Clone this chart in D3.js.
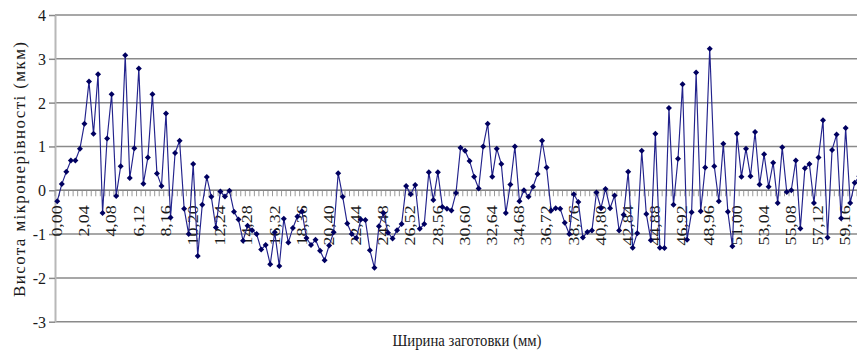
<!DOCTYPE html>
<html>
<head>
<meta charset="utf-8">
<script src="https://cdn.jsdelivr.net/npm/d3@7"></script>
<style>
  html, body { margin: 0; padding: 0; background: #fff; overflow: hidden; }
  svg { display: block; }
</style>
</head>
<body>
<svg id="chart" width="857" height="353"></svg>
<script>
// Profile heights (мкм) sampled every 0.34 mm across the blank width
const heights = [
  -0.25, 0.14, 0.42, 0.68, 0.68, 0.95, 1.52, 2.48, 1.29, 2.65,
  -0.52, 1.18, 2.19, -0.13, 0.55, 3.08, 0.28, 0.96, 2.78, 0.15,
  0.75, 2.19, 0.38, 0.10, 1.75, -0.62, 0.85, 1.13, -0.42, -1.00,
  0.60, -1.50, -0.33, 0.30, -0.15, -0.85, -0.03, -0.14, -0.01, -0.49,
  -0.67, -1.15, -0.81, -0.91, -1.00, -1.35, -1.25, -1.69, -0.96, -1.73,
  -0.65, -1.19, -0.86, -0.60, -0.48, -1.09, -1.25, -1.13, -1.38, -1.60,
  -1.26, -0.96, 0.39, -0.15, -0.76, -1.00, -1.09, -0.67, -0.68, -1.37,
  -1.77, -0.82, -0.52, -0.97, -1.10, -0.91, -0.77, 0.10, -0.09, 0.12,
  -0.88, -0.77, 0.41, -0.22, 0.41, -0.38, -0.42, -0.46, -0.06, 0.97,
  0.90, 0.67, 0.31, 0.04, 1.00, 1.52, 0.31, 0.95, 0.60, -0.52,
  0.13, 1.00, -0.25, 0.00, -0.15, 0.08, 0.37, 1.13, 0.52, -0.46,
  -0.41, -0.42, -0.74, -1.00, -0.09, -0.27, -1.08, -0.95, -0.92, -0.05,
  -0.41, 0.03, -0.41, -0.12, -0.92, -0.56, 0.42, -1.31, -0.98, 0.90,
  -0.54, -1.14, 1.29, -1.31, -1.32, 1.88, -0.33, 0.72, 2.42, -1.13,
  -0.50, 2.69, -0.48, 0.52, 3.23, 0.55, -0.25, 1.06, -0.49, -1.28,
  1.29, 0.31, 0.95, 0.32, 1.33, 0.13, 0.82, 0.08, 0.63, -0.29,
  0.98, -0.04, 0.00, 0.68, -0.87, 0.50, 0.60, -0.29, 0.75, 1.60,
  -1.08, 0.92, 1.27, -0.64, 1.42, -0.29, 0.17, 0.32
];
const stepMm = 0.34;
const tickLabels = [
  "0,00", "2,04", "4,08", "6,12", "8,16", "10,20", "12,24", "14,28",
  "16,32", "18,36", "20,40", "22,44", "24,48", "26,52", "28,56", "30,60",
  "32,64", "34,68", "36,72", "38,76", "40,80", "42,84", "44,88", "46,92",
  "48,96", "51,00", "53,04", "55,08", "57,12", "59,16"
];
const yTicks = [-3, -2, -1, 0, 1, 2, 3, 4];
const xTitle = "Ширина заготовки (мм)";
const yTitle = "Висота мікронерівності (мкм)";

// Category names: position along the blank, in mm with a decimal comma
const categories = heights.map((_, i) => (i * stepMm).toFixed(2).replace(".", ","));

const serif = "'Liberation Serif', 'Times New Roman', Times, serif";
const svg = d3.select("#chart");

const plotLeft = 55, plotTop = 15, plotBottom = 321.7, bandPx = 4.531;
const plotRight = plotLeft + bandPx * categories.length;
const x = d3.scaleBand()
  .domain(categories)
  .range([plotLeft, plotRight])
  .paddingInner(0).paddingOuter(0);
const y = d3.scaleLinear().domain([-3, 4]).range([plotBottom, plotTop]);

// Horizontal gridlines
svg.append("g")
  .selectAll("line")
  .data(yTicks)
  .join("line")
  .attr("x1", plotLeft).attr("x2", plotRight)
  .attr("y1", d => y(d)).attr("y2", d => y(d))
  .attr("stroke", "#8a8a8a")
  .attr("stroke-width", 1.5);

// Value axis
const yAxis = svg.append("g")
  .attr("transform", `translate(${plotLeft},0)`)
  .call(d3.axisLeft(y).tickValues(yTicks).tickSize(6).tickSizeOuter(0).tickPadding(3)
    .tickFormat(d => String(d)));
yAxis.select(".domain").attr("stroke", "#b8b8b8").attr("stroke-width", 2);
yAxis.selectAll(".tick line").attr("stroke", "#8a8a8a").attr("stroke-width", 1.5);
yAxis.selectAll(".tick text")
  .attr("font-family", serif)
  .attr("font-size", 16)
  .attr("fill", "#1a1a1a")
  .attr("dy", "0.34em");

// Category axis crossing at zero: boundary tick marks
const y0 = y(0);
const boundaries = categories.map(c => x(c)).concat([plotRight]);
svg.append("g")
  .selectAll("line")
  .data(boundaries)
  .join("line")
  .attr("x1", d => d).attr("x2", d => d)
  .attr("y1", y0).attr("y2", y0 + 6)
  .attr("stroke", "#9a9a9a")
  .attr("stroke-width", 1);

// Category labels, rotated and stretched along the text direction
const xAxis = svg.append("g")
  .attr("transform", `translate(0,${y0})`)
  .call(d3.axisBottom(x).tickValues(tickLabels).tickSize(0).tickSizeOuter(0));
xAxis.select(".domain").attr("stroke", "#808080").attr("stroke-width", 1.2)
  .attr("d", `M${plotLeft},0H${plotRight}`);
xAxis.selectAll(".tick text")
  .attr("x", 0).attr("y", 0)
  .attr("dy", "0.34em")
  .attr("text-anchor", "end")
  .attr("transform", "translate(0,15) rotate(-90) scale(1.28,1)")
  .attr("font-family", serif)
  .attr("font-size", 14)
  .attr("fill", "#1a1a1a");

// Profile line
const cx = (d, i) => x(categories[i]) + x.bandwidth() / 2;
svg.append("path")
  .datum(heights)
  .attr("fill", "none")
  .attr("stroke", "#22228c")
  .attr("stroke-width", 1.15)
  .attr("stroke-linejoin", "round")
  .attr("d", d3.line().x(cx).y(d => y(d)));

// Diamond markers
const diamond = d3.symbol().type(d3.symbolSquare).size(18);
svg.append("g")
  .selectAll("path")
  .data(heights)
  .join("path")
  .attr("d", diamond)
  .attr("transform", (d, i) => `translate(${cx(d, i)},${y(d)}) rotate(45)`)
  .attr("fill", "#000060");

// Axis titles
svg.append("text")
  .attr("x", 467).attr("y", 346)
  .attr("text-anchor", "middle")
  .attr("font-family", serif)
  .attr("font-size", 16)
  .attr("fill", "#1a1a1a")
  .attr("textLength", 149)
  .attr("lengthAdjust", "spacingAndGlyphs")
  .text(xTitle);

svg.append("text")
  .attr("transform", "translate(25,169.5) rotate(-90)")
  .attr("text-anchor", "middle")
  .attr("font-family", serif)
  .attr("font-size", 17)
  .attr("fill", "#1a1a1a")
  .attr("textLength", 255)
  .attr("lengthAdjust", "spacing")
  .text(yTitle);
</script>
</body>
</html>
